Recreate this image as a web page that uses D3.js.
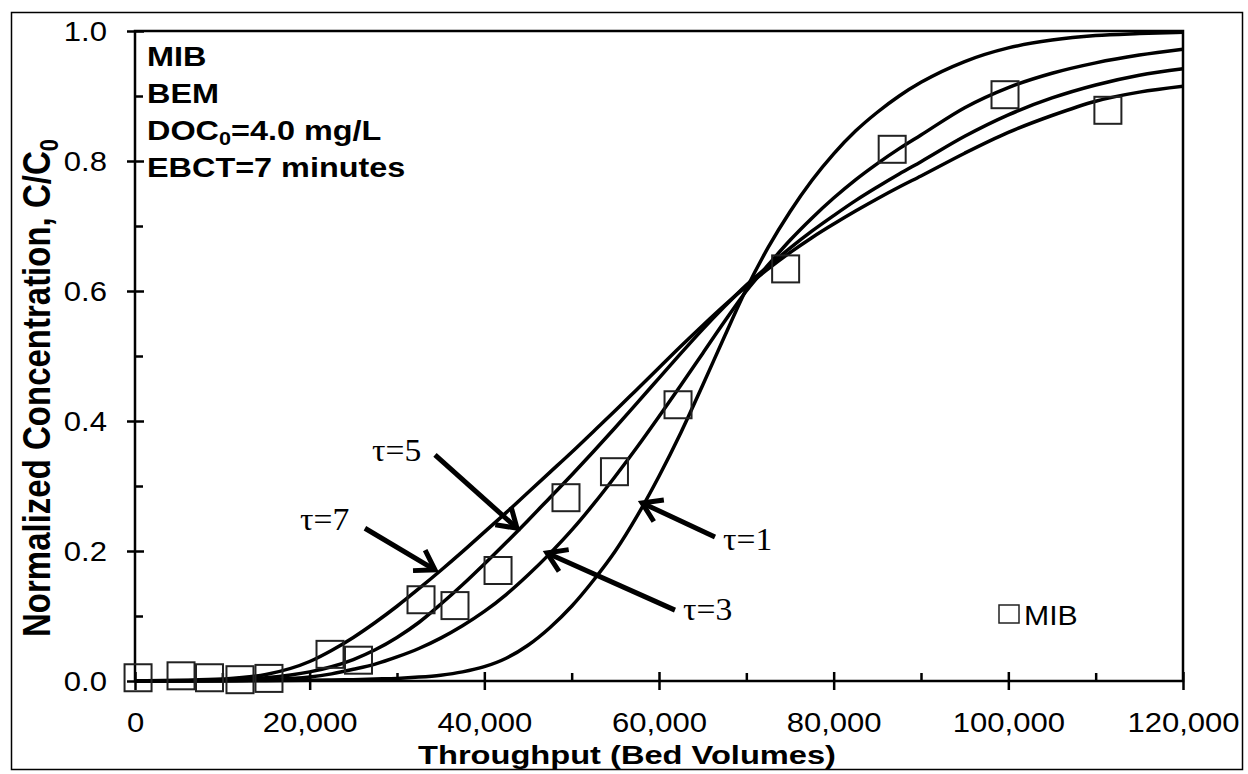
<!DOCTYPE html>
<html>
<head>
<meta charset="utf-8">
<script src="https://cdn.jsdelivr.net/npm/d3@7"></script>
<style>
  body { margin: 0; background: #fff; }
  svg { display: block; }
</style>
</head>
<body>
<div id="chart"></div>
<script>
const width = 1248;
const height = 774;
const margin = { top: 31, right: 65, bottom: 93, left: 135 };

// measured MIB breakthrough (squares)
const throughput = [350, 5270, 8530, 12020, 15340, 22330, 25590, 32750, 36640, 41570,
    49350, 54900, 62180, 74500, 86700, 99620, 111400];
const mibConc = [0.005, 0.008, 0.005, 0.002, 0.004, 0.041, 0.032, 0.125, 0.116, 0.170,
    0.282, 0.322, 0.425, 0.634, 0.818, 0.902, 0.878];

// BEM model curves, all on the same bed-volume grid
const modelBV = [0, 5000, 10000, 15000, 20000, 22500, 25000, 27500, 30000, 32500, 35000,
    37500, 40000, 42500, 45000, 47500, 50000, 52500, 55000, 57500, 60000, 62500, 65000,
    67500, 70000, 72500, 75000, 77500, 80000, 82500, 85000, 87500, 90000, 95000, 100000,
    105000, 110000, 115000, 120000];
const tau1 = [0, 0, 0, 0.0005, 0.001, 0.0015, 0.002, 0.003, 0.004, 0.006, 0.009,
    0.014, 0.022, 0.035, 0.055, 0.082, 0.115, 0.155, 0.2, 0.254, 0.315, 0.382, 0.455,
    0.53, 0.603, 0.667, 0.722, 0.77, 0.811, 0.846, 0.875, 0.9, 0.921, 0.953, 0.974,
    0.986, 0.993, 0.996, 0.998];
const tau3 = [0, 0, 0.0005, 0.002, 0.006, 0.011, 0.018, 0.026, 0.037, 0.05, 0.066,
    0.085, 0.107, 0.133, 0.163, 0.196, 0.232, 0.272, 0.315, 0.36, 0.407, 0.455, 0.504,
    0.553, 0.6, 0.64, 0.678, 0.712, 0.743, 0.771, 0.796, 0.819, 0.84, 0.882, 0.913,
    0.935, 0.951, 0.963, 0.972];
const tau5 = [0, 0.0005, 0.0015, 0.005, 0.014, 0.022, 0.033, 0.048, 0.067, 0.09, 0.118,
    0.148, 0.18, 0.213, 0.247, 0.282, 0.317, 0.353, 0.39, 0.428, 0.466, 0.504, 0.541,
    0.576, 0.609, 0.638, 0.666, 0.692, 0.716, 0.739, 0.76, 0.78, 0.799, 0.838, 0.871,
    0.897, 0.917, 0.932, 0.942];
const tau7 = [0, 0.001, 0.003, 0.01, 0.03, 0.047, 0.067, 0.09, 0.115, 0.142, 0.17,
    0.199, 0.229, 0.259, 0.29, 0.321, 0.352, 0.384, 0.416, 0.449, 0.482, 0.515, 0.547,
    0.578, 0.607, 0.634, 0.659, 0.682, 0.703, 0.723, 0.742, 0.76, 0.777, 0.812, 0.844,
    0.87, 0.892, 0.906, 0.915];

// arrow call-outs, in data units
const arrowLabels = ["τ=7", "τ=5", "τ=1", "τ=3"];
const labelAt = [[18890, 0.232], [27140, 0.338], [67330, 0.2015], [62750, 0.094]];
const arrowFrom = [[26330, 0.235], [34350, 0.348], [66410, 0.2215], [61830, 0.109]];
const arrowTo = [[34350, 0.171], [43740, 0.235], [58060, 0.274], [47170, 0.197]];

const xTickValues = [0, 20000, 40000, 60000, 80000, 100000, 120000];
const xMinorValues = [10000, 30000, 50000, 70000, 90000, 110000];
const yTickValues = [0, 0.2, 0.4, 0.6, 0.8, 1.0];
const yMinorValues = [0.1, 0.3, 0.5, 0.7, 0.9];

const sans = "'Liberation Sans', Arial, sans-serif";
const serif = "'Liberation Serif', 'Times New Roman', serif";

const svg = d3.select("#chart")
    .append("svg")
    .attr("width", width)
    .attr("height", height);

svg.append("rect")
    .attr("x", 11.5).attr("y", 12.5)
    .attr("width", 1231).attr("height", 757)
    .attr("fill", "none")
    .attr("stroke", "#000")
    .attr("stroke-width", 1.5);

const plotWidth = width - margin.left - margin.right;
const plotHeight = height - margin.top - margin.bottom;

const plot = svg.append("g")
    .attr("transform", `translate(${margin.left},${margin.top})`);

const x = d3.scaleLinear().domain([0, 120000]).range([0, plotWidth]);
const y = d3.scaleLinear().domain([0, 1]).range([plotHeight, 0]);

function styleAxis(g) {
    g.select(".domain").remove();
    g.selectAll(".tick line").attr("stroke", "#000").attr("stroke-width", 2.5);
}

const tickScale = 1.15;

// outer half of major ticks + labels
plot.append("g")
    .call(d3.axisLeft(y).tickValues(yTickValues).tickSize(8).tickFormat(d3.format(".1f")))
    .call(styleAxis)
    .call(g => g.selectAll("text")
        .attr("x", -28 / tickScale)
        .attr("dy", "0.36em")
        .attr("transform", `scale(${tickScale},1)`)
        .style("font-family", sans)
        .style("font-size", "27px")
        .attr("fill", "#000"));

plot.append("g")
    .call(d3.axisRight(y).tickValues(yTickValues).tickSize(9).tickFormat(""))
    .call(styleAxis);
plot.append("g")
    .call(d3.axisRight(y).tickValues(yMinorValues).tickSize(8).tickFormat(""))
    .call(styleAxis);

plot.append("g")
    .attr("transform", `translate(0,${plotHeight})`)
    .call(d3.axisBottom(x).tickValues(xTickValues).tickSize(9).tickFormat(d3.format(",")))
    .call(styleAxis)
    .call(g => g.selectAll("text")
        .attr("y", 51)
        .attr("dy", "0")
        .attr("transform", `scale(${tickScale},1)`)
        .style("font-family", sans)
        .style("font-size", "27px")
        .attr("fill", "#000"));

plot.append("g")
    .attr("transform", `translate(0,${plotHeight})`)
    .call(d3.axisTop(x).tickValues(xTickValues).tickSize(9).tickFormat(""))
    .call(styleAxis);
plot.append("g")
    .attr("transform", `translate(0,${plotHeight})`)
    .call(d3.axisTop(x).tickValues(xMinorValues).tickSize(8).tickFormat(""))
    .call(styleAxis);

plot.append("rect")
    .attr("width", plotWidth)
    .attr("height", plotHeight)
    .attr("fill", "none")
    .attr("stroke", "#000")
    .attr("stroke-width", 2.5);

// model curves
const line = d3.line()
    .x(d => x(d[0]))
    .y(d => y(d[1]))
    .curve(d3.curveMonotoneX);

[tau1, tau3, tau5, tau7].forEach(series => {
    plot.append("path")
        .datum(modelBV.map((bv, i) => [bv, series[i]]))
        .attr("fill", "none")
        .attr("stroke", "#000")
        .attr("stroke-width", 3.5)
        .attr("d", line);
});

// data squares
const sq = 27;
plot.selectAll(".pt")
    .data(throughput.map((bv, i) => [bv, mibConc[i]]))
    .join("rect")
    .attr("class", "pt")
    .attr("x", d => x(d[0]) - sq / 2)
    .attr("y", d => y(d[1]) - sq / 2)
    .attr("width", sq)
    .attr("height", sq)
    .attr("fill", "none")
    .attr("stroke", "#222")
    .attr("stroke-width", 2);

// arrows + tau labels
arrowLabels.forEach((lab, i) => {
    const x0 = x(arrowFrom[i][0]), y0 = y(arrowFrom[i][1]);
    const x1 = x(arrowTo[i][0]), y1 = y(arrowTo[i][1]);
    const ang = Math.atan2(y1 - y0, x1 - x0);
    const len = 22, spread = Math.PI / 5.5;
    plot.append("path")
        .attr("d", `M${x0},${y0}L${x1},${y1}`)
        .attr("stroke", "#000")
        .attr("stroke-width", 5)
        .attr("fill", "none");
    plot.append("path")
        .attr("d", `M${x1 - len * Math.cos(ang - spread)},${y1 - len * Math.sin(ang - spread)}` +
            `L${x1},${y1}` +
            `L${x1 - len * Math.cos(ang + spread)},${y1 - len * Math.sin(ang + spread)}`)
        .attr("stroke", "#000")
        .attr("stroke-width", 5)
        .attr("stroke-linejoin", "miter")
        .attr("fill", "none");
    const tx = x(labelAt[i][0]), ty = y(labelAt[i][1]);
    plot.append("text")
        .attr("transform", `translate(${tx},${ty}) scale(1.05,1)`)
        .style("font-family", serif)
        .style("font-size", "32px")
        .text(lab);
});

// legend
const legend = svg.append("g")
    .attr("transform", "translate(999,605)");
legend.append("rect")
    .attr("width", 20).attr("height", 18)
    .attr("fill", "none")
    .attr("stroke", "#222")
    .attr("stroke-width", 1.5);
legend.append("text")
    .attr("transform", "translate(25,20) scale(1.12,1)")
    .style("font-family", sans)
    .style("font-size", "27px")
    .text("MIB");

// annotation block
const notes = svg.append("g").style("font-family", sans).style("font-weight", "bold");
function boldLine(yPos) {
    return notes.append("text")
        .attr("transform", `translate(147,${yPos}) scale(1.2,1)`)
        .style("font-size", "27px");
}
boldLine(66).text("MIB");
boldLine(103).text("BEM");
const doc = boldLine(140);
doc.append("tspan").text("DOC");
doc.append("tspan").attr("dy", "0.3em").style("font-size", "18px").text("0");
doc.append("tspan").attr("dy", "-0.2em").text("=4.0 mg/L");
boldLine(177).text("EBCT=7 minutes");

// axis titles
svg.append("text")
    .attr("transform", "translate(627,764) scale(1.28,1)")
    .attr("text-anchor", "middle")
    .style("font-family", sans)
    .style("font-weight", "bold")
    .style("font-size", "25.5px")
    .text("Throughput (Bed Volumes)");

const yt = svg.append("text")
    .attr("transform", "translate(50,388) rotate(-90) scale(1,1.15)")
    .attr("text-anchor", "middle")
    .style("font-family", sans)
    .style("font-weight", "bold")
    .style("font-size", "33px");
yt.append("tspan").text("Normalized Concentration, C/C");
yt.append("tspan").attr("dy", "0.3em").style("font-size", "22px").text("0");
</script>
</body>
</html>
